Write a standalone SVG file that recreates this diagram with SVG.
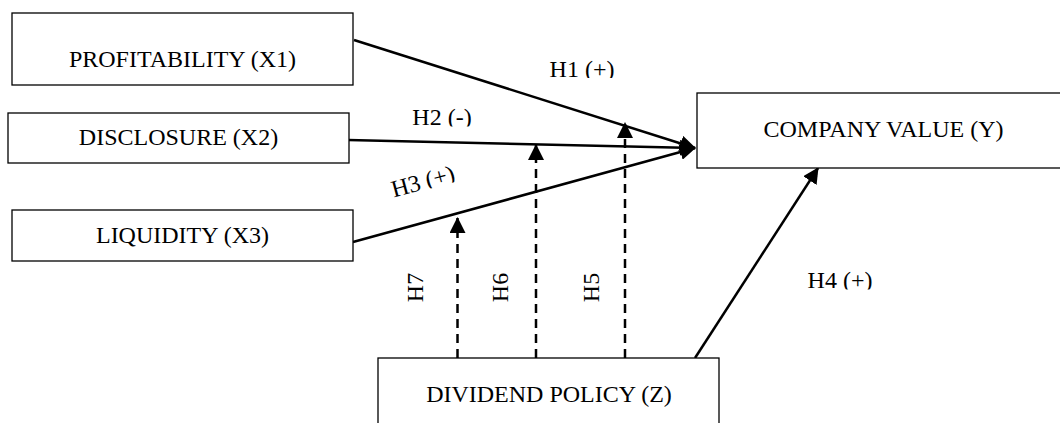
<svg xmlns="http://www.w3.org/2000/svg" width="1060" height="423" viewBox="0 0 1060 423">
  <style>
    .box { fill: #fff; stroke: #000; stroke-width: 1.3; }
    .lbl { font-family: "Liberation Serif", "Times New Roman", serif; font-size: 24px; fill: #000; }
    .mid { text-anchor: middle; }
    .arr { stroke: #000; stroke-width: 2.5; fill: none; marker-end: url(#head); }
    .dash { stroke-dasharray: 9 6; }
  </style>
  <defs>
    <marker id="head" markerUnits="userSpaceOnUse" viewBox="0 0 16 16" markerWidth="16" markerHeight="16" refX="15" refY="8" orient="auto">
      <path d="M0,0 L16,8 L0,16 z" fill="#000"/>
    </marker>
    <clipPath id="c1"><rect x="520" y="50" width="120" height="28"/></clipPath>
    <clipPath id="c2"><rect x="400" y="100" width="90" height="26.5"/></clipPath>
    <clipPath id="c3"><rect x="-60" y="-30" width="120" height="31"/></clipPath>
    <clipPath id="c4"><rect x="790" y="260" width="100" height="29.5"/></clipPath>
  </defs>

  <g id="connectors">
    <line class="arr" x1="354" y1="40" x2="695" y2="148"/>
    <line class="arr" x1="348" y1="140" x2="695" y2="148"/>
    <line class="arr" x1="353" y1="242" x2="695" y2="148"/>
    <line class="arr" x1="695" y1="358" x2="818" y2="168"/>
    <line class="arr dash" x1="457.5" y1="358" x2="457.5" y2="218"/>
    <line class="arr dash" x1="536" y1="358" x2="536" y2="145"/>
    <line class="arr dash" x1="625" y1="358" x2="625" y2="123"/>
    <text class="lbl mid" x="582" y="77" clip-path="url(#c1)">H1 (+)</text>
    <text class="lbl mid" x="442" y="125" clip-path="url(#c2)">H2 (-)</text>
    <g transform="translate(425,189) rotate(-15)">
      <text class="lbl mid" x="0" y="0" clip-path="url(#c3)">H3 (+)</text>
    </g>
    <text class="lbl mid" x="840" y="288" clip-path="url(#c4)">H4 (+)</text>
    <text class="lbl mid" transform="translate(423,287.5) rotate(-90)">H7</text>
    <text class="lbl mid" transform="translate(508,287.5) rotate(-90)">H6</text>
    <text class="lbl mid" transform="translate(599,287.5) rotate(-90)">H5</text>
  </g>

  <g id="profitability">
    <rect class="box" x="12" y="13" width="341" height="72"/>
    <text class="lbl mid" x="182.5" y="67">PROFITABILITY (X1)</text>
  </g>
  <g id="disclosure">
    <rect class="box" x="8" y="113" width="341" height="50"/>
    <text class="lbl mid" x="178.5" y="145">DISCLOSURE (X2)</text>
  </g>
  <g id="liquidity">
    <rect class="box" x="12" y="210" width="341" height="51"/>
    <text class="lbl mid" x="182.5" y="243">LIQUIDITY (X3)</text>
  </g>
  <g id="company-value">
    <rect class="box" x="697" y="93" width="420" height="75"/>
    <text class="lbl mid" x="883.5" y="137">COMPANY VALUE (Y)</text>
  </g>
  <g id="dividend-policy">
    <rect class="box" x="378" y="358" width="341" height="100"/>
    <text class="lbl mid" x="549" y="402">DIVIDEND POLICY (Z)</text>
  </g>
</svg>
